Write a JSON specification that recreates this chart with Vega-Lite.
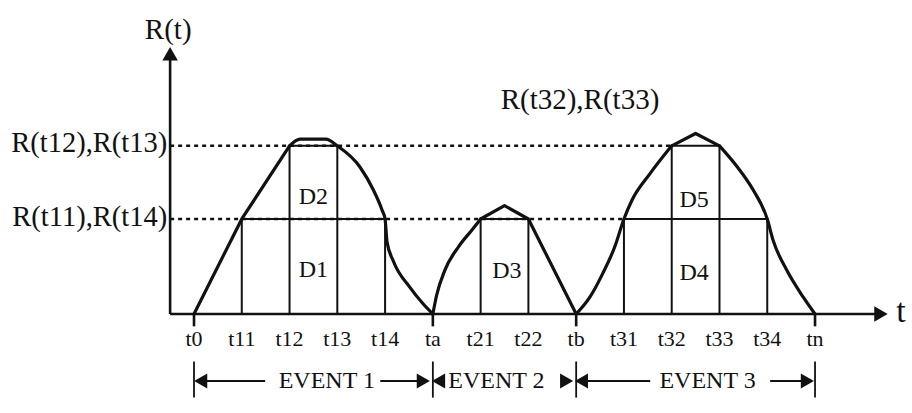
{
  "$schema": "https://vega.github.io/schema/vega-lite/v6.json",
  "width": 912,
  "height": 413,
  "padding": 0,
  "autosize": {"type": "none"},
  "background": "white",
  "config": {"view": {"stroke": null}, "text": {"font": "Liberation Serif", "color": "#111"}},
  "datasets": {
    "guides": [
      {"x": -0.5, "x2": 9, "y": 1, "y2": 1},
      {"x": -0.5, "x2": 10, "y": 1.77, "y2": 1.77}
    ],
    "partitions": [
      {"x": 1, "x2": 1, "y": 0, "y2": 1},
      {"x": 2, "x2": 2, "y": 0, "y2": 1.77},
      {"x": 3, "x2": 3, "y": 0, "y2": 1.77},
      {"x": 4, "x2": 4, "y": 0, "y2": 1},
      {"x": 1, "x2": 4, "y": 1, "y2": 1},
      {"x": 2, "x2": 3, "y": 1.77, "y2": 1.77},
      {"x": 6, "x2": 6, "y": 0, "y2": 1},
      {"x": 7, "x2": 7, "y": 0, "y2": 1},
      {"x": 6, "x2": 7, "y": 1, "y2": 1},
      {"x": 9, "x2": 9, "y": 0, "y2": 1},
      {"x": 10, "x2": 10, "y": 0, "y2": 1.77},
      {"x": 11, "x2": 11, "y": 0, "y2": 1.77},
      {"x": 12, "x2": 12, "y": 0, "y2": 1},
      {"x": 9, "x2": 12, "y": 1, "y2": 1},
      {"x": 10, "x2": 11, "y": 1.77, "y2": 1.77}
    ],
    "axes": [
      {"x": -0.5, "x2": -0.5, "y": 0, "y2": 2.74},
      {"x": -0.5, "x2": 14.38, "y": 0, "y2": 0},
      {"x": 0, "x2": 0, "y": 0, "y2": -0.13},
      {"x": 5, "x2": 5, "y": 0, "y2": -0.13},
      {"x": 8, "x2": 8, "y": 0, "y2": -0.13},
      {"x": 13, "x2": 13, "y": 0, "y2": -0.13}
    ],
    "eventSpans": [
      {"x": 0, "x2": 0, "y": -0.5, "y2": -0.88},
      {"x": 5, "x2": 5, "y": -0.5, "y2": -0.88},
      {"x": 8, "x2": 8, "y": -0.5, "y2": -0.88},
      {"x": 13, "x2": 13, "y": -0.5, "y2": -0.88},
      {"x": 0.1, "x2": 1.49, "y": -0.705, "y2": -0.705},
      {"x": 3.9, "x2": 4.75, "y": -0.705, "y2": -0.705},
      {"x": 8.15, "x2": 9.55, "y": -0.705, "y2": -0.705},
      {"x": 12.06, "x2": 12.8, "y": -0.705, "y2": -0.705}
    ],
    "straights": [
      {"seg": "s1", "x": 0, "y": 0},
      {"seg": "s1", "x": 1, "y": 1},
      {"seg": "s1", "x": 2, "y": 1.77},
      {"seg": "s2", "x": 6, "y": 1},
      {"seg": "s2", "x": 6.5, "y": 1.14},
      {"seg": "s2", "x": 7, "y": 1},
      {"seg": "s2", "x": 8, "y": 0},
      {"seg": "s3", "x": 10, "y": 1.77},
      {"seg": "s3", "x": 10.5, "y": 1.9},
      {"seg": "s3", "x": 11, "y": 1.77}
    ],
    "curves": [
      {"seg": "c1", "x": 2, "y": 1.77},
      {"seg": "c1", "x": 2.22, "y": 1.84},
      {"seg": "c1", "x": 2.76, "y": 1.84},
      {"seg": "c1", "x": 3, "y": 1.77},
      {"seg": "c1", "x": 3.47, "y": 1.55},
      {"seg": "c1", "x": 3.75, "y": 1.31},
      {"seg": "c1", "x": 3.94, "y": 1.09},
      {"seg": "c1", "x": 4, "y": 1},
      {"seg": "c1", "x": 4.04, "y": 0.76},
      {"seg": "c1", "x": 4.17, "y": 0.56},
      {"seg": "c1", "x": 4.52, "y": 0.28},
      {"seg": "c1", "x": 4.79, "y": 0.11},
      {"seg": "c1", "x": 5, "y": 0},
      {"seg": "c2", "x": 5, "y": 0},
      {"seg": "c2", "x": 5.08, "y": 0.2},
      {"seg": "c2", "x": 5.25, "y": 0.46},
      {"seg": "c2", "x": 5.54, "y": 0.71},
      {"seg": "c2", "x": 5.81, "y": 0.88},
      {"seg": "c2", "x": 6, "y": 1},
      {"seg": "c3", "x": 8, "y": 0},
      {"seg": "c3", "x": 8.29, "y": 0.18},
      {"seg": "c3", "x": 8.56, "y": 0.43},
      {"seg": "c3", "x": 8.81, "y": 0.71},
      {"seg": "c3", "x": 9, "y": 1},
      {"seg": "c3", "x": 9.17, "y": 1.2},
      {"seg": "c3", "x": 9.55, "y": 1.48},
      {"seg": "c3", "x": 10, "y": 1.77},
      {"seg": "c4", "x": 11, "y": 1.77},
      {"seg": "c4", "x": 11.37, "y": 1.55},
      {"seg": "c4", "x": 11.7, "y": 1.31},
      {"seg": "c4", "x": 12, "y": 1},
      {"seg": "c4", "x": 12.12, "y": 0.78},
      {"seg": "c4", "x": 12.41, "y": 0.46},
      {"seg": "c4", "x": 12.75, "y": 0.18},
      {"seg": "c4", "x": 13, "y": 0}
    ],
    "axisHeads": [
      {"x": -0.5, "y": 2.74, "dir": "up"},
      {"x": 14.38, "y": 0, "dir": "right"}
    ],
    "eventHeads": [
      {"x": 0.14, "y": -0.705, "dir": "left"},
      {"x": 4.8, "y": -0.705, "dir": "right"},
      {"x": 5.12, "y": -0.705, "dir": "left"},
      {"x": 7.8, "y": -0.705, "dir": "right"},
      {"x": 8.11, "y": -0.705, "dir": "left"},
      {"x": 12.84, "y": -0.705, "dir": "right"}
    ],
    "titles": [
      {"x": -0.54, "y": 2.99, "text": "R(t)"},
      {"x": 8.08, "y": 2.25, "text": "R(t32),R(t33)"}
    ],
    "levelLabels": [
      {"x": -0.56, "y": 1.8, "text": "R(t12),R(t13)"},
      {"x": -0.56, "y": 1.02, "text": "R(t11),R(t14)"}
    ],
    "tickLabels": [
      {"x": 0, "y": -0.26, "text": "t0"},
      {"x": 1, "y": -0.26, "text": "t11"},
      {"x": 2, "y": -0.26, "text": "t12"},
      {"x": 3, "y": -0.26, "text": "t13"},
      {"x": 4, "y": -0.26, "text": "t14"},
      {"x": 5, "y": -0.26, "text": "ta"},
      {"x": 6, "y": -0.26, "text": "t21"},
      {"x": 7, "y": -0.26, "text": "t22"},
      {"x": 8, "y": -0.26, "text": "tb"},
      {"x": 9, "y": -0.26, "text": "t31"},
      {"x": 10, "y": -0.26, "text": "t32"},
      {"x": 11, "y": -0.26, "text": "t33"},
      {"x": 12, "y": -0.26, "text": "t34"},
      {"x": 13, "y": -0.26, "text": "tn"}
    ],
    "areaLabels": [
      {"x": 2.5, "y": 0.46, "text": "D1"},
      {"x": 2.5, "y": 1.23, "text": "D2"},
      {"x": 6.55, "y": 0.45, "text": "D3"},
      {"x": 10.47, "y": 0.43, "text": "D4"},
      {"x": 10.47, "y": 1.2, "text": "D5"}
    ],
    "eventLabels": [
      {"x": 2.78, "y": -0.705, "text": "EVENT 1"},
      {"x": 6.33, "y": -0.705, "text": "EVENT 2"},
      {"x": 10.75, "y": -0.705, "text": "EVENT 3"}
    ]
  },
  "encoding": {
    "x": {"field": "x", "type": "quantitative", "scale": {"domain": [-4.061, 15.03], "nice": false, "zero": false}, "axis": null},
    "y": {"field": "y", "type": "quantitative", "scale": {"domain": [-1.042, 3.305], "nice": false, "zero": false}, "axis": null}
  },
  "layer": [
    {
      "data": {"name": "guides"},
      "mark": {"type": "rule", "color": "#111", "strokeWidth": 2.5, "strokeDash": [4, 4]},
      "encoding": {"x2": {"field": "x2"}, "y2": {"field": "y2"}}
    },
    {
      "data": {"name": "partitions"},
      "mark": {"type": "rule", "color": "#111", "strokeWidth": 2},
      "encoding": {"x2": {"field": "x2"}, "y2": {"field": "y2"}}
    },
    {
      "data": {"name": "axes"},
      "mark": {"type": "rule", "color": "#111", "strokeWidth": 2.6},
      "encoding": {"x2": {"field": "x2"}, "y2": {"field": "y2"}}
    },
    {
      "data": {"name": "eventSpans"},
      "mark": {"type": "rule", "color": "#111", "strokeWidth": 1.8},
      "encoding": {"x2": {"field": "x2"}, "y2": {"field": "y2"}}
    },
    {
      "data": {"name": "straights"},
      "mark": {"type": "line", "color": "#111", "strokeWidth": 3.2, "interpolate": "linear", "strokeJoin": "round", "strokeCap": "round"},
      "encoding": {"detail": {"field": "seg"}}
    },
    {
      "data": {"name": "curves"},
      "mark": {"type": "line", "color": "#111", "strokeWidth": 3.2, "interpolate": "monotone", "strokeCap": "round"},
      "encoding": {"detail": {"field": "seg"}}
    },
    {
      "data": {"name": "axisHeads"},
      "mark": {"type": "point", "filled": true, "color": "#111", "size": 240, "opacity": 1},
      "encoding": {"shape": {"field": "dir", "type": "nominal", "scale": {"domain": ["up", "left", "right"], "range": ["triangle-up", "triangle-left", "triangle-right"]}, "legend": null}}
    },
    {
      "data": {"name": "eventHeads"},
      "mark": {"type": "point", "filled": true, "color": "#111", "size": 230, "opacity": 1},
      "encoding": {"shape": {"field": "dir", "type": "nominal", "scale": {"domain": ["up", "left", "right"], "range": ["triangle-up", "triangle-left", "triangle-right"]}, "legend": null}}
    },
    {
      "data": {"name": "titles"},
      "mark": {"type": "text", "fontSize": 29, "align": "center", "baseline": "middle"},
      "encoding": {"text": {"field": "text"}}
    },
    {
      "data": {"values": [{"x": 14.8, "y": 0.02, "text": "t"}]},
      "mark": {"type": "text", "fontSize": 34, "align": "center", "baseline": "middle"},
      "encoding": {"text": {"field": "text"}}
    },
    {
      "data": {"name": "levelLabels"},
      "mark": {"type": "text", "fontSize": 28.5, "align": "right", "baseline": "middle"},
      "encoding": {"text": {"field": "text"}}
    },
    {
      "data": {"name": "tickLabels"},
      "mark": {"type": "text", "fontSize": 22, "align": "center", "baseline": "middle"},
      "encoding": {"text": {"field": "text"}}
    },
    {
      "data": {"name": "areaLabels"},
      "mark": {"type": "text", "fontSize": 24, "align": "center", "baseline": "middle"},
      "encoding": {"text": {"field": "text"}}
    },
    {
      "data": {"name": "eventLabels"},
      "mark": {"type": "text", "fontSize": 24, "align": "center", "baseline": "middle"},
      "encoding": {"text": {"field": "text"}}
    }
  ]
}
